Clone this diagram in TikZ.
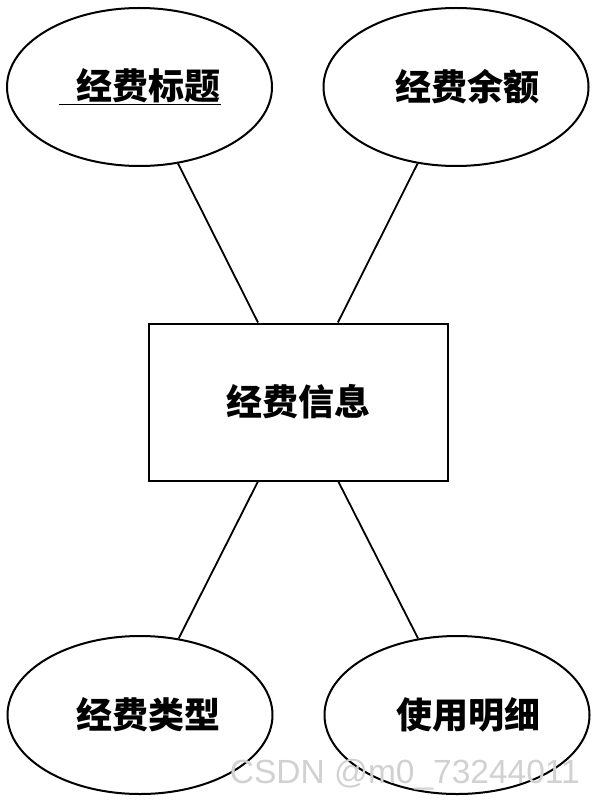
\documentclass[tikz,border=0pt]{standalone}
\usepackage{fontspec}
\newfontfamily\cjk{Noto Sans CJK SC}
\newfontfamily\wmfont{Liberation Sans}
\usetikzlibrary{shapes.geometric}
\begin{document}
\begin{tikzpicture}[x=1pt,y=-1pt,
  cjkfont/.style={font=\cjk\bfseries\fontsize{36}{42}\selectfont},
  attr/.style={ellipse,draw,line width=2pt,minimum width=265pt,minimum height=158pt,inner sep=0pt,cjkfont},
  entity/.style={rectangle,draw,line width=2pt,minimum width=299pt,minimum height=157pt,inner sep=0pt,cjkfont},
  conn/.style={line width=1.8pt}]
\useasboundingbox (0,0) rectangle (597,802);
\node[entity] (e) at (298,402) {经费信息};
\node[attr] (a1) at (139.5,87) {\underline{\hspace{18pt}经费标题}};
\node[attr] (a2) at (456,87) {\hspace{22pt}经费余额};
\node[attr] (a3) at (140,715) {\hspace{16pt}经费类型};
\node[attr] (a4) at (457,715) {\hspace{22pt}使用明细};
\draw[conn] (a1) -- (e);
\draw[conn] (a2) -- (e);
\draw[conn] (a3) -- (e);
\draw[conn] (a4) -- (e);
\node[font=\wmfont\fontsize{33.5}{40}\selectfont,text=black!18,anchor=east,inner sep=0pt] (wm) at (580,775) {CSDN @m0\_73244011};
\end{tikzpicture}
\end{document}
